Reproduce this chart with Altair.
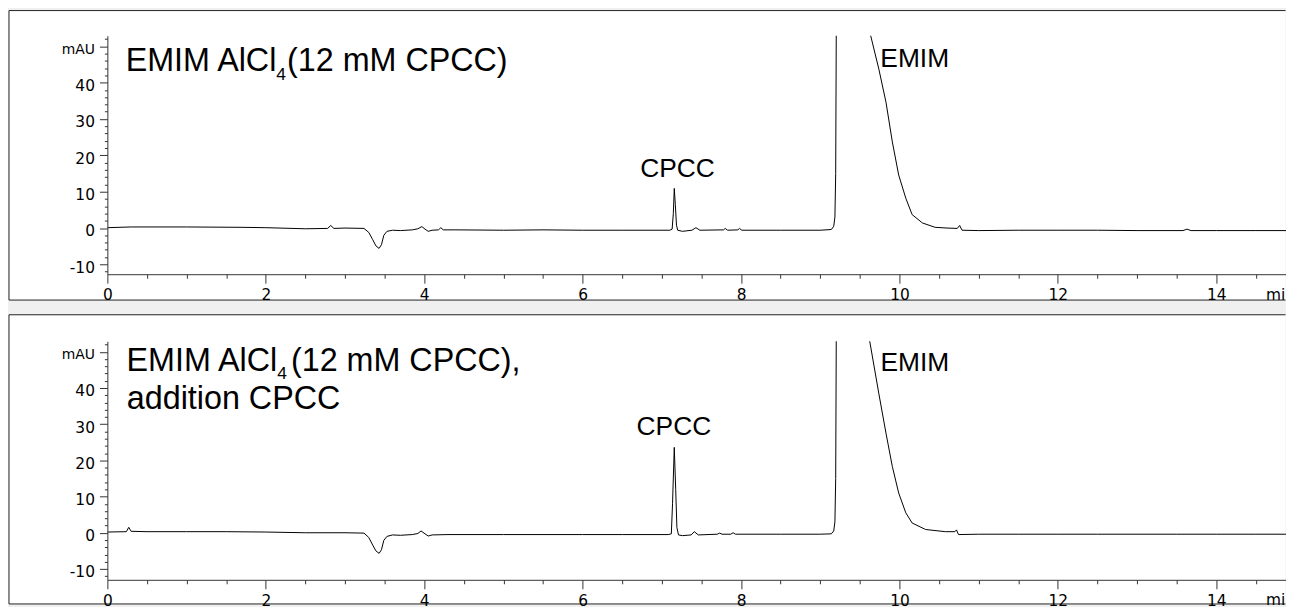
import altair as alt
import pandas as pd

# ---------------- data ----------------
# Top panel: EMIM AlCl4 (12 mM CPCC)
time_a = [0.00, 0.30, 1.00, 1.70, 2.00, 2.50, 2.78, 2.82, 2.86, 3.00, 3.24, 3.30, 3.35, 3.39,
          3.43, 3.46, 3.49, 3.53, 3.60, 3.70, 3.85, 3.92, 3.97, 4.01, 4.05, 4.10, 4.18, 4.21,
          4.24, 4.40, 5.00, 5.50, 6.00, 6.50, 7.10, 7.13, 7.145, 7.157, 7.17, 7.185, 7.20, 7.26,
          7.38, 7.43, 7.48, 7.78, 7.80, 7.83, 7.96, 7.98, 8.01, 8.50, 9.00, 9.14, 9.17, 9.185,
          9.195, 9.205, 9.25, 9.40, 9.55, 9.63, 9.74, 9.83, 9.91, 9.99, 10.08, 10.16, 10.29,
          10.45, 10.60, 10.73, 10.76, 10.79, 11.00, 11.50, 12.00, 12.50, 13.00, 13.58, 13.63,
          13.68, 14.00, 14.50, 15.00]
mau_a = [0.1, 0.3, 0.3, 0.2, 0.1, -0.2, -0.1, 0.7, -0.1, 0.0, -0.1, -1.2, -3.2, -4.9,
         -5.6, -4.6, -2.0, -0.9, -0.6, -0.7, -0.5, -0.2, 0.4, -0.3, -0.9, -0.6, -0.5, 0.1,
         -0.5, -0.5, -0.6, -0.5, -0.6, -0.6, -0.6, -0.3, 4.0, 10.9, 6.5, 0.8, -0.6, -0.9,
         -0.6, 0.1, -0.6, -0.5, -0.1, -0.6, -0.5, -0.1, -0.6, -0.6, -0.6, -0.4, 0.5, 3.0,
         15.0, 70.0, 400.0, 1200.0, 400.0, 53.5, 43.7, 34.6, 23.7, 14.6, 8.2, 3.7, 1.4,
         0.2, 0.0, -0.1, 0.7, -0.6, -0.7, -0.6, -0.6, -0.6, -0.7, -0.7, -0.3,
         -0.7, -0.7, -0.7, -0.7]

# Bottom panel: EMIM AlCl4 (12 mM CPCC), addition CPCC
time_b = [0.00, 0.24, 0.27, 0.30, 0.50, 1.00, 1.50, 2.00, 2.50, 3.00, 3.24, 3.30, 3.35, 3.39,
          3.43, 3.46, 3.49, 3.53, 3.60, 3.70, 3.85, 3.92, 3.96, 4.01, 4.05, 4.10, 4.30, 5.00,
          5.50, 6.00, 6.50, 7.08, 7.12, 7.135, 7.157, 7.175, 7.19, 7.21, 7.26, 7.37, 7.41, 7.46,
          7.70, 7.73, 7.76, 7.87, 7.90, 7.93, 8.50, 9.00, 9.14, 9.17, 9.185, 9.195, 9.205, 9.25,
          9.40, 9.55, 9.62, 9.74, 9.83, 9.91, 9.99, 10.08, 10.16, 10.33, 10.58, 10.70, 10.72,
          10.745, 11.00, 11.50, 12.00, 12.50, 13.00, 13.50, 14.00, 14.50, 15.00]
mau_b = [0.2, 0.3, 1.5, 0.4, 0.3, 0.3, 0.3, 0.2, 0.0, 0.0, -0.1, -1.3, -3.4, -5.0,
         -5.7, -4.7, -2.1, -1.0, -0.6, -0.7, -0.5, -0.2, 0.5, -0.3, -0.9, -0.6, -0.5, -0.5,
         -0.5, -0.5, -0.5, -0.5, -0.3, 8.0, 23.6, 12.0, 1.5, -0.6, -0.8, -0.6, 0.3, -0.6,
         -0.4, -0.1, -0.4, -0.4, 0.0, -0.4, -0.4, -0.4, -0.3, 0.5, 3.0, 15.0, 70.0, 400.0,
         1200.0, 400.0, 53.5, 38.4, 27.5, 18.3, 11.0, 5.5, 2.7, 0.9, 0.3, 0.3, 0.8,
         -0.5, -0.4, -0.4, -0.4, -0.4, -0.4, -0.4, -0.4, -0.4, -0.4]

# axis ticks
x_tick_values = [0, 0.5, 1, 1.5, 2, 2.5, 3, 3.5, 4, 4.5, 5, 5.5, 6, 6.5, 7, 7.5, 8, 8.5, 9,
                 9.5, 10, 10.5, 11, 11.5, 12, 12.5, 13, 13.5, 14, 14.5]
y_tick_values = [-12, -10, -8, -6, -4, -2, 0, 2, 4, 6, 8, 10, 12, 14, 16, 18, 20, 22, 24,
                 26, 28, 30, 32, 34, 36, 38, 40, 42, 44, 46, 48, 50, 52]
x_unit = ["min"]
x_domain = [0, 14.88]
y_domain_a = [-12.7, 52.9]
y_domain_b = [-13.0, 52.9]

# annotations: text, time (min), mAU, kind
ann_a_text = ["EMIM AlCl", "4", "(12 mM CPCC)", "CPCC", "EMIM"]
ann_a_t = [2.133, 2.133, 2.268, 6.727, 9.759]
ann_a_v = [43.1, 40.8, 43.1, 14.1, 44.2]
ann_a_kind = ["big_r", "sub", "big", "peak", "peak"]

ann_b_text = ["EMIM AlCl", "4", "(12 mM CPCC),", "addition CPCC", "CPCC", "EMIM"]
ann_b_t = [2.144, 2.144, 2.318, 0.245, 6.681, 9.760]
ann_b_v = [44.7, 42.4, 44.7, 34.3, 27.0, 44.6]
ann_b_kind = ["big_r", "sub", "big", "big", "peak", "peak"]

# ---------------- chart ----------------
W = 1186
H = 240
LEFT = -99      # panel frame, relative to the plot area
RIGHT = 1185.5
AX = "#333333"
FRAME = "#222222"
TICK_FONT = "DejaVu Sans"
TEXT_FONT = "Liberation Sans"

x_axis = alt.Axis(
    values=x_tick_values, title="",
    tickSize={"condition": {"test": "datum.value % 2 === 0", "value": 9}, "value": 4},
    labelExpr="datum.value % 2 === 0 ? '' + datum.value : ''",
    labelFont=TICK_FONT, labelFontSize=15.5, labelColor="black", labelPadding=4.5,
    labelOverlap=False, labelFlush=False, labelBaseline="top",
    domainColor=AX, tickColor=AX, domainWidth=1, tickWidth=1, grid=False, zindex=1)

y_axis = alt.Axis(
    values=y_tick_values, title="",
    tickSize={"condition": {"test": "datum.value % 10 === 0", "value": 8}, "value": 3},
    labelExpr="datum.value === 50 ? 'mAU' : (datum.value % 10 === 0 ? '' + datum.value : '')",
    labelFont=TICK_FONT,
    labelFontSize={"condition": {"test": "datum.value === 50", "value": 14}, "value": 15.5},
    labelColor="black", labelPadding=5, labelOffset=3, labelOverlap=False, labelFlush=False,
    labelBaseline="middle",
    domainColor=AX, tickColor=AX, domainWidth=1, tickWidth=1, grid=False, zindex=1)


def panel(times, values, ydom, a_text, a_t, a_v, a_kind, top, bottom):
    df = pd.DataFrame({"t": times, "v": values})
    ann = pd.DataFrame({"label": a_text, "t": a_t, "v": a_v, "kind": a_kind})
    one = pd.DataFrame({"unit": x_unit})
    x = alt.X("t:Q", scale=alt.Scale(domain=x_domain, nice=False, zero=False), axis=x_axis)
    y = alt.Y("v:Q", scale=alt.Scale(domain=ydom, nice=False, zero=False), axis=y_axis)

    # white panel with a frame open to the right (cut by the picture's edge)
    fill = alt.Chart(one).mark_rect(fill="white").encode(
        x=alt.value(LEFT), x2=alt.value(RIGHT), y=alt.value(top), y2=alt.value(bottom))
    f_top = alt.Chart(one).mark_rule(color=FRAME, strokeWidth=1).encode(
        x=alt.value(LEFT), x2=alt.value(RIGHT), y=alt.value(top))
    f_bot = alt.Chart(one).mark_rule(color=FRAME, strokeWidth=1).encode(
        x=alt.value(LEFT), x2=alt.value(RIGHT), y=alt.value(bottom))
    f_left = alt.Chart(one).mark_rule(color=FRAME, strokeWidth=1).encode(
        x=alt.value(LEFT), y=alt.value(top), y2=alt.value(bottom))

    line = alt.Chart(df).mark_line(color="black", strokeWidth=1, clip=True).encode(x=x, y=y)

    big_r = alt.Chart(ann).transform_filter("datum.kind === 'big_r'").mark_text(
        align="right", baseline="alphabetic", font=TEXT_FONT, fontSize=32.5, color="black"
    ).encode(x=x, y=y, text="label:N")
    big = alt.Chart(ann).transform_filter("datum.kind === 'big'").mark_text(
        align="left", baseline="alphabetic", font=TEXT_FONT, fontSize=32.5, color="black"
    ).encode(x=x, y=y, text="label:N")
    sub = alt.Chart(ann).transform_filter("datum.kind === 'sub'").mark_text(
        align="left", baseline="alphabetic", font=TEXT_FONT, fontSize=17.5, color="black"
    ).encode(x=x, y=y, text="label:N")
    peak = alt.Chart(ann).transform_filter("datum.kind === 'peak'").mark_text(
        align="left", baseline="alphabetic", font=TEXT_FONT, fontSize=26.5, color="black"
    ).encode(x=x, y=y, text="label:N")

    # x-axis unit, cut at the picture's right edge like the reference
    unit = alt.Chart(one).mark_text(
        align="left", baseline="top", font=TICK_FONT, fontSize=15.5, color="black",
        limit=19.6, ellipsis="\u200b"
    ).encode(x=alt.value(1166), y=alt.value(H + 13.5), text="unit:N")

    return alt.layer(fill, f_top, f_bot, f_left, line, big_r, big, sub, peak, unit).properties(
        width=W, height=H)


top_panel = panel(time_a, mau_a, y_domain_a, ann_a_text, ann_a_t, ann_a_v, ann_a_kind,
                  top=-25.3, bottom=266)
bottom_panel = panel(time_b, mau_b, y_domain_b, ann_b_text, ann_b_t, ann_b_v, ann_b_kind,
                     top=-26.7, bottom=264.3)

chart = alt.vconcat(top_panel, bottom_panel, spacing=10.5).properties(
    padding=0, background="#f0f0f0"
).configure_view(strokeWidth=0)

chart.save("out.html", embed_options={"renderer": "svg", "actions": False})
